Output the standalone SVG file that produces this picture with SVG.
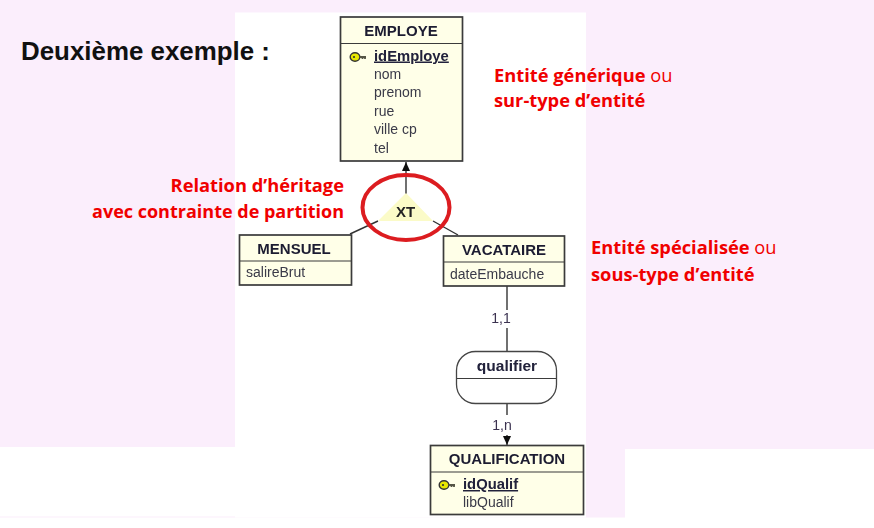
<svg xmlns="http://www.w3.org/2000/svg" width="874" height="528" viewBox="0 0 874 528">
<style>
text{font-family:"Liberation Sans",Arial,sans-serif}
.box{fill:#ffffe8;stroke:#3a3a3a;stroke-width:1.7}
.sep{stroke:#3a3a3a;stroke-width:1.2;fill:none}
.t{font-size:15px;font-weight:bold;fill:#1c1c30;text-anchor:middle}
.a{font-size:14px;fill:#3a3a48}
.k{font-size:14.800px;font-weight:bold;fill:#20203a;text-decoration:underline}
.red{font-family:"Open Sans","Liberation Sans",sans-serif;font-size:18.300px;font-weight:bold;fill:#f00000}
.redn{font-weight:normal}
.line{stroke:#333;stroke-width:1.4;fill:none}
.card{font-size:14px;fill:#3a3050;text-anchor:middle}
.soft{filter:url(#soft)}
</style>
<defs>
<filter id="soft" x="-5%" y="-5%" width="110%" height="110%"><feGaussianBlur stdDeviation="0.35"/></filter>
<g id="key"><ellipse cx="5" cy="0" rx="4.800" ry="4.300" fill="#e8e800" stroke="#333" stroke-width="1.400"/><path d="M9.500 0H16M12.500 0V2M15 0V2" fill="none" stroke="#554" stroke-width="1.800"/><circle cx="4" cy="0" r="1.100" fill="#333"/></g>
<marker id="arr" markerWidth="10" markerHeight="10" refX="9" refY="4" orient="auto" markerUnits="userSpaceOnUse"><path d="M0 0L9 4L0 8Z" fill="#111"/></marker>
</defs>
<rect id="bg" width="874" height="528" fill="#fff"/>
<path id="pink" d="M0 0H874V449H625V517.500H0V516.500H235V447H0Z" fill="#fbeefc"/>
<rect id="sheet" x="235" y="12.500" width="351" height="505" fill="#fff"/>
<g id="connectors" class="soft">
<path class="line" d="M406 194V162" marker-end="url(#arr)"/>
<path class="line" d="M378 221L350 234"/>
<path class="line" d="M433 221L458 235"/>
<path class="line" d="M507 286V310"/>
<path class="line" d="M507 328V351"/>
<path class="line" d="M507 404V415"/>
<path class="line" d="M507 435V445" marker-end="url(#arr)"/>
</g>
<g id="employe" class="soft">
<rect class="box" x="340.500" y="17" width="122" height="144"/>
<line class="sep" x1="341" y1="43.500" x2="462" y2="43.500"/>
<text class="t" x="401" y="36">EMPLOYE</text>
<use href="#key" x="350" y="57"/>
<text class="k" x="374" y="60.500">idEmploye</text>
<text class="a" x="374" y="79">nom</text>
<text class="a" x="374" y="97">prenom</text>
<text class="a" x="374" y="116">rue</text>
<text class="a" x="374" y="134">ville cp</text>
<text class="a" x="374" y="153">tel</text>
</g>
<g id="heritage" class="soft">
<path d="M406 193L433 221H378Z" fill="#fbfbc8"/>
<text x="405.500" y="216.500" font-size="15" font-weight="bold" fill="#222" text-anchor="middle">XT</text>
</g>
<ellipse id="highlight" cx="406" cy="207.500" rx="43.500" ry="32.500" fill="none" stroke="#dc1c20" stroke-width="4"/>
<g id="mensuel" class="soft">
<rect class="box" x="239.500" y="235" width="112" height="50"/>
<line class="sep" x1="240" y1="261" x2="351" y2="261"/>
<text class="t" x="294" y="253.500">MENSUEL</text>
<text class="a" x="246" y="277">salireBrut</text>
</g>
<g id="vacataire" class="soft">
<rect class="box" x="443.500" y="236" width="121" height="50"/>
<line class="sep" x1="444" y1="262" x2="564" y2="262"/>
<text class="t" x="504" y="254.500">VACATAIRE</text>
<text class="a" x="450" y="279">dateEmbauche</text>
</g>
<text class="card soft" x="501" y="323">1,1</text>
<g id="qualifier" class="soft">
<rect x="456.500" y="351.500" width="100" height="52" rx="19" fill="#fff" stroke="#444" stroke-width="1.300"/>
<line class="sep" x1="457" y1="378.500" x2="556" y2="378.500"/>
<text x="507" y="371" font-size="15.500" font-weight="bold" fill="#20203a" text-anchor="middle">qualifier</text>
</g>
<text class="card soft" x="502" y="430">1,n</text>
<g id="qualification" class="soft">
<rect class="box" x="430.500" y="445.500" width="153" height="69"/>
<line class="sep" x1="431" y1="472" x2="583" y2="472"/>
<text class="t" x="507" y="464">QUALIFICATION</text>
<use href="#key" x="439" y="485"/>
<text class="k" x="463" y="489">idQualif</text>
<text class="a" x="463" y="507">libQualif</text>
</g>
<g id="labels">
<text x="21" y="60" font-family="'Open Sans','Liberation Sans',sans-serif" font-size="25.900" font-weight="bold" fill="#111">Deuxième exemple :</text>
<text class="red" x="494" y="82">Entité générique <tspan class="redn">ou</tspan></text>
<text class="red" x="494" y="107">sur-type d’entité</text>
<text class="red" x="344" y="192" text-anchor="end" font-size="18">Relation d’héritage</text>
<text class="red" x="344" y="218" text-anchor="end" style="font-size:18px">avec contrainte de partition</text>
<text class="red" x="591" y="254">Entité spécialisée <tspan class="redn">ou</tspan></text>
<text class="red" x="591" y="281">sous-type d’entité</text>
</g>
</svg>
